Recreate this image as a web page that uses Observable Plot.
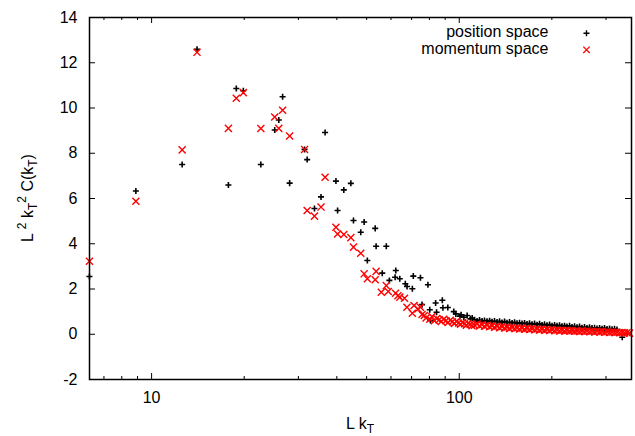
<!DOCTYPE html>
<html>
<head>
<meta charset="utf-8">
<script src="https://cdn.jsdelivr.net/npm/d3@7"></script>
<script src="https://cdn.jsdelivr.net/npm/@observablehq/plot@0.6"></script>
<style>
  html, body { margin: 0; padding: 0; background: #fff; }
  #chart svg { display: block; }
</style>
</head>
<body>
<div id="chart"></div>
<script>
// ---- data ----
const seriesNames = ["position space", "momentum space"];
const xMajorTicks = [10, 100];
const xMinorTicks = [7, 8, 9, 20, 30, 40, 50, 60, 70, 80, 90, 200, 300];
const yTicks = [-2, 0, 2, 4, 6, 8, 10, 12, 14];

const posX = [6.28, 8.89, 12.57, 14.05, 17.77, 18.85, 19.87, 22.65, 25.13, 25.91, 26.66, 28.10,
  31.42, 32.04, 33.84, 35.54, 36.64, 39.74, 40.23, 42.15, 44.43, 45.31, 47.85, 49.07, 50.27,
  53.31, 53.68, 56.20, 57.93, 59.28, 61.88, 62.20, 64.08, 66.79, 67.67, 70.4, 70.9, 74.8, 75.7,
  79.1, 80.2, 80.6, 83.8, 84.4, 88.1, 88.5, 91.8, 96.0, 97.5, 100.5, 101.4, 103.5, 106.1, 108.8, 110.2,
  112.1, 114.3, 116.4, 118.6, 120.8, 123.1, 125.5, 127.8, 130.2, 132.7, 135.2, 137.7, 140.4, 143.0,
  145.7, 148.5, 151.3, 154.1, 157.0, 160.0, 163.0, 166.1, 169.2, 172.4, 175.7, 179.0, 182.4, 185.8,
  189.3, 192.9, 196.6, 200.3, 204.1, 207.9, 211.8, 215.8, 219.9, 224.0, 228.3, 232.6, 237.0, 241.5,
  246.0, 250.6, 255.4, 260.2, 265.1, 270.1, 275.3, 280.4, 285.8, 291.2, 296.6, 302.2, 308.0, 313.8,
  319.7, 325.6, 338.7];
const posY = [2.55, 6.33, 7.50, 12.60, 6.60, 10.86, 10.76, 7.50, 9.03, 9.47, 10.50, 6.68,
  8.17, 7.72, 5.56, 6.07, 8.92, 6.77, 5.47, 6.38, 6.67, 5.03, 4.51, 4.96, 3.26,
  4.68, 3.89, 2.70, 3.89, 2.38, 2.52, 2.82, 2.45, 2.23, 2.11, 2.01, 2.57, 2.50, 1.31,
  2.19, 1.08, 0.61, 1.38, 0.97, 1.50, 1.17, 1.18, 1.00, 0.90, 0.80, 0.86, 0.75, 0.83, 0.68, 0.72,
  0.64, 0.59, 0.63, 0.58, 0.61, 0.57, 0.60, 0.55, 0.58, 0.54, 0.57, 0.52, 0.56, 0.51,
  0.54, 0.50, 0.53, 0.48, 0.51, 0.47, 0.50, 0.45, 0.48, 0.44, 0.47, 0.42, 0.46, 0.41,
  0.44, 0.40, 0.43, 0.38, 0.41, 0.37, 0.40, 0.35, 0.38, 0.34, 0.37, 0.32, 0.35, 0.31,
  0.34, 0.29, 0.32, 0.28, 0.31, 0.27, 0.29, 0.25, 0.28, 0.24, 0.27, 0.23, 0.25, 0.22,
  0.24, 0.21, -0.13];

const momX = [6.28, 8.89, 12.57, 14.05, 17.77, 18.85, 19.87, 22.65, 25.13, 25.91, 26.66, 28.10,
  31.42, 32.04, 33.84, 35.54, 36.64, 39.74, 40.23, 42.15, 44.43, 45.31, 47.85, 49.07, 50.27,
  53.31, 53.68, 55.8, 57.93, 58.8, 62.1, 63.2, 64.1, 66.4, 67.6, 70.4, 71.3, 73.4, 74.8, 75.7, 77.0,
  78.0, 80.2, 81.5, 83.0, 84.5, 86.0, 87.5, 89.0, 90.5, 92.0, 93.5, 95.0, 96.5, 98.0, 99.5,
  101.0, 102.5, 104.0, 105.5, 107.0, 108.5, 110.0,
  112.1, 114.3, 116.4, 118.6, 120.8, 123.1, 125.5, 127.8, 130.2, 132.7, 135.2, 137.7, 140.4, 143.0,
  145.7, 148.5, 151.3, 154.1, 157.0, 160.0, 163.0, 166.1, 169.2, 172.4, 175.7, 179.0, 182.4, 185.8,
  189.3, 192.9, 196.6, 200.3, 204.1, 207.9, 211.8, 215.8, 219.9, 224.0, 228.3, 232.6, 237.0, 241.5,
  246.0, 250.6, 255.4, 260.2, 265.1, 270.1, 275.3, 280.4, 285.8, 291.2, 296.6, 302.2, 308.0, 313.8,
  319.7, 325.6, 331.9, 338.1, 344.4, 351.0, 357.6];
const momY = [3.23, 5.88, 8.15, 12.46, 9.10, 10.43, 10.68, 9.09, 9.60, 9.10, 9.90, 8.76,
  8.17, 5.47, 5.22, 5.62, 6.94, 4.73, 4.43, 4.41, 4.27, 3.85, 3.58, 2.67, 2.45,
  2.41, 2.78, 1.86, 2.15, 1.89, 1.81, 1.70, 1.64, 1.59, 1.19, 0.93, 1.27, 1.12, 1.19, 0.87, 0.83,
  0.72, 0.66, 0.78, 0.60, 0.70, 0.64, 0.56, 0.66, 0.60, 0.52, 0.62, 0.55, 0.48, 0.57, 0.50,
  0.44, 0.52, 0.46, 0.40, 0.49, 0.43, 0.38,
  0.40, 0.45, 0.37, 0.42, 0.35, 0.40, 0.33, 0.37, 0.31, 0.35, 0.29, 0.33, 0.28, 0.31,
  0.26, 0.30, 0.25, 0.28, 0.23, 0.27, 0.22, 0.26, 0.21, 0.24, 0.20, 0.23, 0.19, 0.22,
  0.18, 0.21, 0.17, 0.20, 0.16, 0.19, 0.15, 0.18, 0.14, 0.17, 0.14, 0.16, 0.13, 0.15,
  0.12, 0.15, 0.12, 0.14, 0.11, 0.13, 0.10, 0.13, 0.10, 0.12, 0.09, 0.11, 0.08, 0.10,
  0.08, 0.09, 0.07, 0.08, 0.06, 0.07, 0.05];

// ---- build tables ----
const pos = posX.map((x, i) => ({x, y: posY[i]}));
const mom = momX.map((x, i) => ({x, y: momY[i]}));

const W = 635, H = 436;
const mL = 89, mR = 4, mT = 17, mB = 57;
const frameW = W - mL - mR, frameH = H - mT - mB;
const majorLen = 6, minorLen = 3;
const font = "'Liberation Sans', Arial, Helvetica, sans-serif";

const chart = Plot.plot({
  width: W, height: H,
  marginLeft: mL, marginRight: mR, marginTop: mT, marginBottom: mB,
  x: {type: "log", domain: [6.283, 363]},
  y: {domain: [-2, 14]},
  style: {fontFamily: font, fontSize: "16px", background: "white", color: "black", overflow: "visible"},
  marks: [
    // inward ticks, mirrored on all sides
    Plot.tickX(xMajorTicks, {x: d => d, insetTop: frameH - majorLen, stroke: "black", strokeWidth: 1}),
    Plot.tickX(xMajorTicks, {x: d => d, insetBottom: frameH - majorLen, stroke: "black", strokeWidth: 1}),
    Plot.tickX(xMinorTicks, {x: d => d, insetTop: frameH - minorLen, stroke: "black", strokeWidth: 1}),
    Plot.tickX(xMinorTicks, {x: d => d, insetBottom: frameH - minorLen, stroke: "black", strokeWidth: 1}),
    Plot.tickY(yTicks, {y: d => d, insetRight: frameW - majorLen, stroke: "black", strokeWidth: 1}),
    Plot.tickY(yTicks, {y: d => d, insetLeft: frameW - majorLen, stroke: "black", strokeWidth: 1}),
    Plot.axisX({ticks: xMajorTicks, tickSize: 0, tickPadding: 12, tickFormat: d => String(d), label: null}),
    Plot.axisY({ticks: yTicks, tickSize: 0, tickPadding: 12, tickFormat: d => String(d).replace("−", "-"), label: null}),
    // data
    Plot.dot(pos, {x: "x", y: "y", symbol: "plus", r: 2.1, stroke: "black", strokeWidth: 1.6}),
    Plot.dot(mom, {x: "x", y: "y", symbol: "times", r: 3.3, stroke: "#ff0000", strokeWidth: 1.4}),
    Plot.frame({stroke: "black", strokeWidth: 1.5}),
    // legend
    Plot.text([seriesNames[0]], {frameAnchor: "top-right", dx: -83, dy: 14.5, textAnchor: "end", lineAnchor: "middle", fontSize: 16, fill: "black"}),
    Plot.text([seriesNames[1]], {frameAnchor: "top-right", dx: -83, dy: 31, textAnchor: "end", lineAnchor: "middle", fontSize: 16, fill: "black"}),
    Plot.dot([seriesNames[0]], {frameAnchor: "top-right", dx: -45, dy: 15.7, symbol: "plus", r: 2.1, stroke: "black", strokeWidth: 1.4}),
    Plot.dot([seriesNames[1]], {frameAnchor: "top-right", dx: -45, dy: 32.3, symbol: "times", r: 3.0, stroke: "#ff0000", strokeWidth: 1.3})
  ]
});

document.getElementById("chart").appendChild(chart);

// axis titles with sub/superscripts
const svg = d3.select(chart);
const xt = svg.append("text")
  .attr("x", mL + frameW / 2).attr("y", H - 7)
  .attr("text-anchor", "middle")
  .attr("font-family", font).attr("font-size", 16).attr("fill", "black");
xt.append("tspan").text("L k");
xt.append("tspan").attr("font-size", 12).attr("dy", 4).text("T");

const yt = svg.append("text")
  .attr("transform", `translate(33,${mT + frameH / 2}) rotate(-90)`)
  .attr("text-anchor", "middle")
  .attr("font-family", font).attr("font-size", 16).attr("fill", "black");
yt.append("tspan").text("L ");
yt.append("tspan").attr("font-size", 12).attr("dy", -7).text("2");
yt.append("tspan").attr("dy", 7).text(" k");
yt.append("tspan").attr("font-size", 12).attr("dy", 4).text("T");
yt.append("tspan").attr("font-size", 12).attr("dy", -11).text("2");
yt.append("tspan").attr("dy", 7).text(" C(k");
yt.append("tspan").attr("font-size", 12).attr("dy", 4).text("T");
yt.append("tspan").attr("dy", -4).text(")");
</script>
</body>
</html>
